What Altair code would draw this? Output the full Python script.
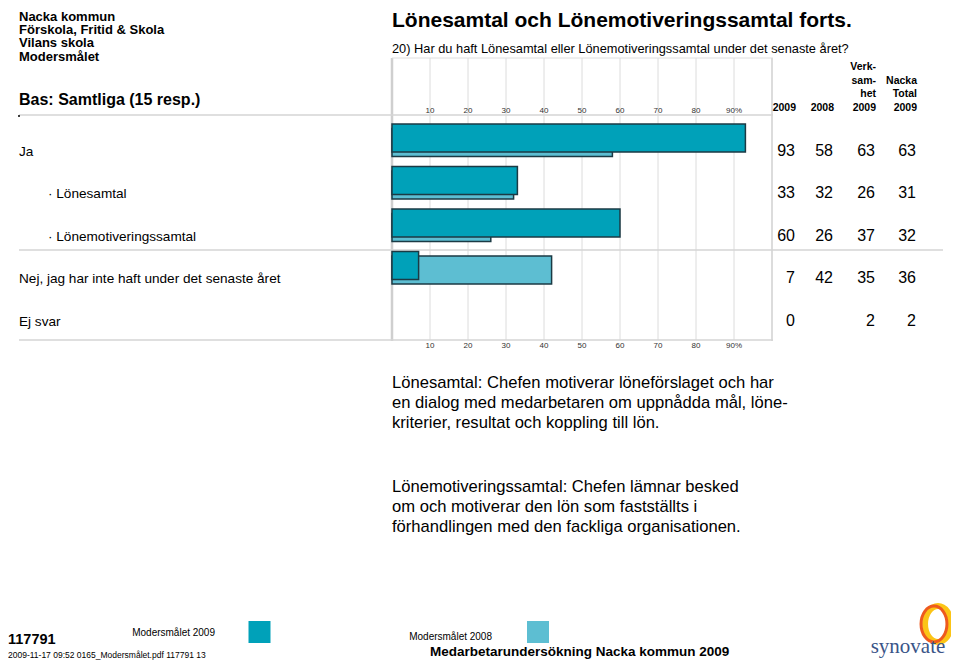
import altair as alt
import pandas as pd

# ---------------- data ----------------
categories = [
    "Ja",
    "· Lönesamtal",
    "· Lönemotiveringssamtal",
    "Nej, jag har inte haft under det senaste året",
    "Ej svar",
]
label_level = [0, 1, 1, 0, 0]
values_2009 = [93, 33, 60, 7, 0]
values_2008 = [58, 32, 26, 42, None]
verksamhet_2009 = [63, 26, 37, 35, 2]
nacka_total_2009 = [63, 31, 32, 36, 2]
series_names = ["Modersmålet 2009", "Modersmålet 2008"]
series_colors = ["#00A1B9", "#5DBED2"]
tick_values = [10, 20, 30, 40, 50, 60, 70, 80, 90]
tick_labels = ["10", "20", "30", "40", "50", "60", "70", "80", "90%"]
column_headers = [["2009"], ["2008"], ["Verk-", "sam-", "het", "2009"], ["Nacka", "Total", "2009"]]
column_values = [values_2009, values_2008, verksamhet_2009, nacka_total_2009]
header_lines = ["Nacka kommun", "Förskola, Fritid & Skola", "Vilans skola", "Modersmålet"]
title_text = "Lönesamtal och Lönemotiveringssamtal forts."
question_text = "20) Har du haft Lönesamtal eller Lönemotiveringssamtal under det senaste året?"
base_text = "Bas: Samtliga (15 resp.)"
note_1 = [
    "Lönesamtal: Chefen motiverar löneförslaget och har",
    "en dialog med medarbetaren om uppnådda mål, löne-",
    "kriterier, resultat och koppling till lön.",
]
note_2 = [
    "Lönemotiveringssamtal: Chefen lämnar besked",
    "om och motiverar den lön som fastställts i",
    "förhandlingen med den fackliga organisationen.",
]
footer_id = "117791"
footer_file = "2009-11-17 09:52 0165_Modersmålet.pdf 117791  13"
footer_survey = "Medarbetarundersökning Nacka kommun 2009"
logo_text = "synovate"

# ---------------- helpers ----------------
SANS = "'Liberation Sans', Arial, Helvetica, sans-serif"
SERIF = "'Liberation Serif', 'DejaVu Serif', serif"
O = 8  # page margin


def P(v):
    return v - O


rows = list(range(len(categories)))


def fmt(v):
    return "" if v is None else str(v)


table = pd.DataFrame({"row": rows, "label": categories, "level": label_level})
for k, col in enumerate(column_values):
    table[f"c{k}"] = [fmt(v) for v in col]

bar_records = []
for name, vals in zip(series_names, [values_2009, values_2008]):
    for i, v in enumerate(vals):
        if v:
            bar_records.append({"row": i, "series": name, "value": v})
bars = pd.DataFrame(bar_records)
ticks = pd.DataFrame({"tick": tick_values, "label": tick_labels})

xscale = alt.Scale(domain=[0, 100], range=[P(392), P(772)])
yscale = alt.Scale(domain=[0, 4], range=[P(133), P(313)])
cscale = alt.Scale(domain=series_names, range=series_colors)
YROW = alt.Y("row:Q", scale=yscale, axis=None)

one = alt.Data(values=[{"k": 1}])


def text(s, x, y, size=12, weight="normal", font=SANS, align="left", color="black", baseline="middle"):
    return alt.Chart(alt.Data(values=[{"t": s}])).mark_text(
        align=align, baseline=baseline, fontSize=size, fontWeight=weight, font=font, color=color
    ).encode(x=alt.value(P(x)), y=alt.value(P(y)), text="t:N")


def hline(y, x1, x2, color="#d4d4d4", w=1.5):
    return alt.Chart(one).mark_rule(color=color, strokeWidth=w).encode(
        x=alt.value(P(x1)), x2=alt.value(P(x2)), y=alt.value(P(y))
    )


layers = []

# gridlines
layers.append(
    alt.Chart(ticks).mark_rule(color="#dcdcdc", strokeWidth=1).encode(
        x=alt.X("tick:Q", scale=xscale, axis=None), y=alt.value(P(58)), y2=alt.value(P(340))
    )
)
# box edges
layers.append(
    alt.Chart(pd.DataFrame({"tick": [0]})).mark_rule(color="#cfcfcf", strokeWidth=2.5).encode(
        x=alt.X("tick:Q", scale=xscale, axis=None), y=alt.value(P(58)), y2=alt.value(P(341))
    )
)
layers.append(
    alt.Chart(pd.DataFrame({"tick": [100]})).mark_rule(color="#d0d0d0", strokeWidth=1.5).encode(
        x=alt.X("tick:Q", scale=xscale, axis=None), y=alt.value(P(58)), y2=alt.value(P(341))
    )
)
layers.append(hline(58, 392, 773, color="#dedede", w=1))
layers.append(hline(115, 19, 773))
layers.append(hline(250, 19, 943))
layers.append(hline(340, 19, 773))
layers.append(
    alt.Chart(one).mark_point(shape="circle", size=4, filled=True, color="black", opacity=1).encode(
        x=alt.value(P(19)), y=alt.value(P(116))
    )
)

# bars
for name, yoff in [(series_names[1], 4.5), (series_names[0], 0)]:
    layers.append(
        alt.Chart(bars).transform_filter(alt.datum.series == name).mark_bar(
            orient="horizontal", size=28, yOffset=yoff, stroke="#1B3A44", strokeWidth=1.5
        ).encode(
            x=alt.X("value:Q", scale=xscale, axis=None, stack=None),
            y=YROW,
            color=alt.Color("series:N", scale=cscale, legend=None),
        )
    )

# tick labels top & bottom
for ty in [111, 346]:
    layers.append(
        alt.Chart(ticks).mark_text(fontSize=8, font=SANS, color="#333333", baseline="middle").encode(
            x=alt.X("tick:Q", scale=xscale, axis=None), y=alt.value(P(ty)), text="label:N"
        )
    )

# row labels
for lvl, lx in [(0, 19), (1, 48)]:
    layers.append(
        alt.Chart(table).transform_filter(alt.datum.level == lvl).mark_text(
            align="left", baseline="middle", dy=13.5, font=SANS, fontSize=13.6, color="black"
        ).encode(x=alt.value(P(lx)), y=YROW, text="label:N")
    )

# value columns
col_right = [795, 833, 875, 916]
for k, cx in enumerate(col_right):
    layers.append(
        alt.Chart(table).mark_text(
            align="right", baseline="middle", dy=12.5, font=SANS, fontSize=16, color="black"
        ).encode(x=alt.value(P(cx)), y=YROW, text=f"c{k}:N")
    )
    for j, line in enumerate(reversed(column_headers[k])):
        layers.append(text(line, cx + 1, 108 - j * 13.7, size=10.5, weight="bold", align="right"))

# header texts
for i, line in enumerate(header_lines):
    layers.append(text(line, 19, 17 + i * 13.2, size=13, weight="bold"))
layers.append(text(base_text, 19, 100, size=16, weight="bold"))
layers.append(text(title_text, 392, 21, size=21, weight="bold"))
layers.append(text(question_text, 392, 49, size=12.8))

# notes
for i, line in enumerate(note_1):
    layers.append(text(line, 392, 383 + i * 20, size=16.6))
for i, line in enumerate(note_2):
    layers.append(text(line, 392, 487 + i * 20, size=16.6))

# legend squares and labels
for name, sx, tx, ty in [(series_names[0], 259.5, 215, 633), (series_names[1], 538, 492, 637)]:
    layers.append(
        alt.Chart(pd.DataFrame({"series": [name]})).mark_square(size=22 * 22, opacity=1).encode(
            x=alt.value(P(sx)), y=alt.value(P(632)),
            color=alt.Color("series:N", scale=cscale, legend=None),
        )
    )
    layers.append(text(name, tx, ty, size=10, align="right"))

# footer
layers.append(text(footer_id, 8, 640, size=14.5, weight="bold"))
layers.append(text(footer_file, 8, 655, size=8.5))
layers.append(text(footer_survey, 430, 652, size=13.5, weight="bold"))

# logo
ellipse = "M -0.72 0 A 0.72 1 0 1 1 0.72 0 A 0.72 1 0 1 1 -0.72 0 Z"
layers.append(
    alt.Chart(one).mark_point(shape=ellipse, size=36 * 36, filled=False, stroke="#FBC416", strokeWidth=6, opacity=1).encode(
        x=alt.value(P(938)), y=alt.value(P(624))
    )
)
layers.append(
    alt.Chart(one).mark_point(shape=ellipse, size=36 * 36, filled=False, stroke="#EE5A1E", strokeWidth=3, opacity=1).encode(
        x=alt.value(P(934)), y=alt.value(P(624))
    )
)
layers.append(text(logo_text, 908, 647, size=21, font=SERIF, align="center", color="#3A5488"))

chart = alt.layer(*layers).properties(
    width=943, height=653, autosize=alt.AutoSizeParams(type="none"), padding=0, background="white"
).configure_view(stroke=None)

chart.save("out.html", embed_options={"renderer": "svg", "actions": False})
